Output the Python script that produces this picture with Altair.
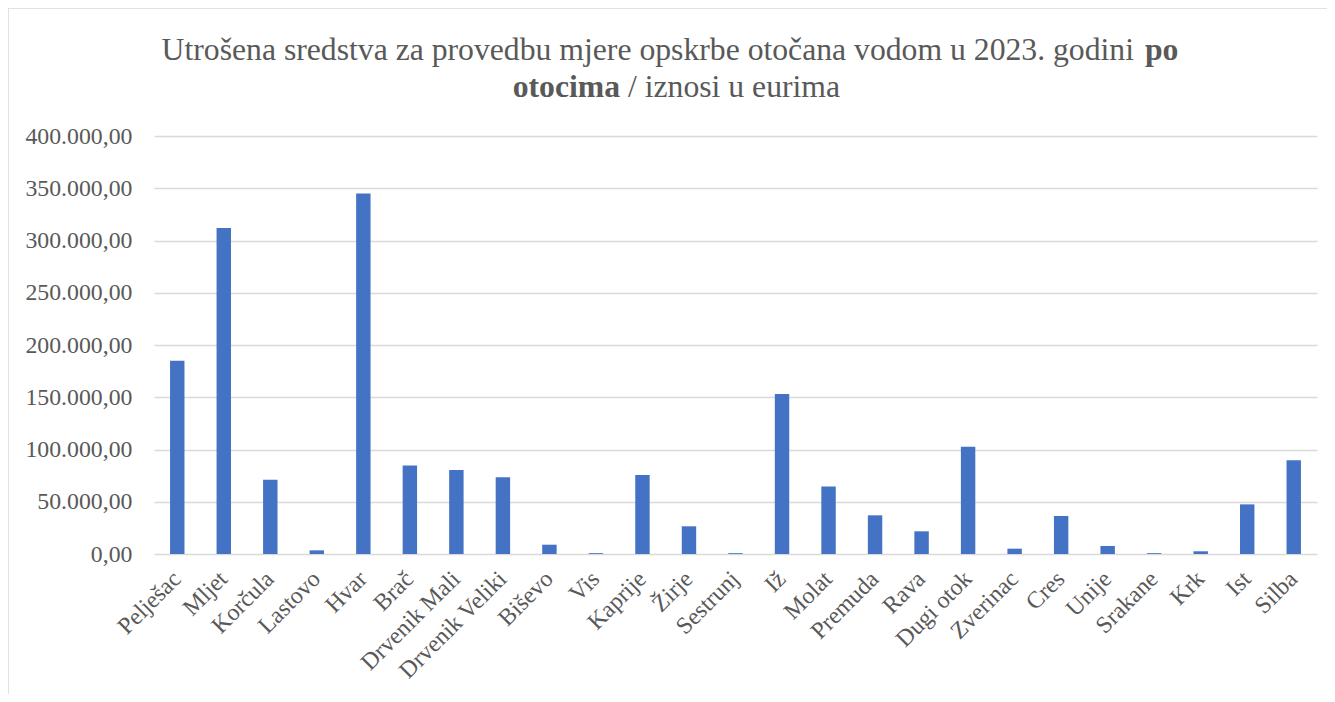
import altair as alt
import pandas as pd

islands = ["Pelješac", "Mljet", "Korčula", "Lastovo", "Hvar", "Brač", "Drvenik Mali",
           "Drvenik Veliki", "Biševo", "Vis", "Kaprije", "Žirje", "Sestrunj", "Iž",
           "Molat", "Premuda", "Rava", "Dugi otok", "Zverinac", "Cres", "Unije",
           "Srakane", "Krk", "Ist", "Silba"]
amounts = [185000, 312000, 71000, 3500, 345000, 84700, 80400,
           73400, 8900, 800, 75600, 26500, 800, 153200,
           64500, 37000, 21700, 102700, 5100, 36400, 7700,
           800, 2600, 47500, 89700]
y_ticks = [0, 50000, 100000, 150000, 200000, 250000, 300000, 350000, 400000]

title_l1_normal = "Utrošena sredstva za provedbu mjere opskrbe otočana vodom u 2023. godini"
title_l1_bold = "po"
title_l2_bold = "otocima"
title_l2_normal = "/ iznosi u eurima"

df = pd.DataFrame({"otok": islands, "iznos": amounts})

W, H = 1163, 418
PAD_L, PAD_T, PAD_R, PAD_B = 146, 128, 10, 140
FONT = "Liberation Serif"
GREY = "#595959"
TSIZE = 31.7

label_expr = ("replace(replace(replace(format(datum.value, ',.2f'), regexp(',', 'g'), '_'),"
              " regexp('[.]', 'g'), ','), regexp('_', 'g'), '.')")

bars = alt.Chart(df).mark_bar(color="#4472C4").encode(
    x=alt.X("otok:N", sort=islands,
            scale=alt.Scale(paddingInner=0.69, paddingOuter=0.345),
            axis=alt.Axis(title=None, labelAngle=-45, labelFont=FONT, labelFontSize=23.8,
                          labelColor=GREY, labelPadding=21, ticks=False, domain=False,
                          labelAlign="right", labelBaseline="middle", labelOverlap=False,
                          grid=False)),
    y=alt.Y("iznos:Q", scale=alt.Scale(domain=[0, 400000], nice=False),
            axis=alt.Axis(title=None, values=y_ticks, labelExpr=label_expr, grid=True,
                          gridColor="#d9d9d9", gridWidth=1.4, domain=False, ticks=False,
                          labelPadding=22, labelFont=FONT, labelFontSize=23.8,
                          labelColor=GREY)),
)

def txt(s, x, y, align, weight):
    return alt.Chart(pd.DataFrame({"t": [s]})).mark_text(
        font=FONT, fontSize=TSIZE, color=GREY, align=align, baseline="alphabetic",
        fontWeight=weight
    ).encode(text="t:N", x=alt.value(x), y=alt.value(y))

t1 = txt(title_l1_normal, 980, -76, "right", "normal")
t2 = txt(title_l1_bold, 991, -76, "left", "bold")
t3 = txt(title_l2_bold, 466, -39, "right", "bold")
t4 = txt(title_l2_normal, 474, -39, "left", "normal")

frame_top = alt.Chart(pd.DataFrame({"a": [0]})).mark_rule(color="#d9d9d9", strokeWidth=1.5).encode(
    x=alt.value(-PAD_L), x2=alt.value(W + PAD_R + 20), y=alt.value(-PAD_T))
frame_left = alt.Chart(pd.DataFrame({"a": [0]})).mark_rule(color="#d9d9d9", strokeWidth=1.5).encode(
    x=alt.value(-PAD_L), y=alt.value(-PAD_T), y2=alt.value(H + PAD_B + 20))

chart = alt.layer(bars, t1, t2, t3, t4, frame_top, frame_left).properties(
    width=W, height=H,
    padding={"left": PAD_L, "top": PAD_T, "right": PAD_R, "bottom": PAD_B},
    autosize=alt.AutoSizeParams(type="none"),
).configure_view(stroke=None)

chart.save("out.html", embed_options={"renderer": "svg", "actions": False})
